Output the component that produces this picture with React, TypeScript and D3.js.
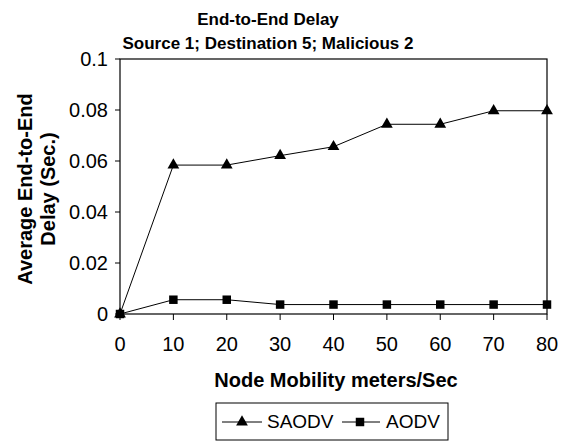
import React from "react";
import * as d3 from "d3";

// Datos
const mobility = [0, 10, 20, 30, 40, 50, 60, 70, 80];
const saodv = [0, 0.0584, 0.0584, 0.0621, 0.0656, 0.0744, 0.0744, 0.0797, 0.0797];
const aodv = [0, 0.0056, 0.0056, 0.0037, 0.0037, 0.0037, 0.0037, 0.0037, 0.0037];
const yTicks = [0, 0.02, 0.04, 0.06, 0.08, 0.1];
const xTicks = [0, 10, 20, 30, 40, 50, 60, 70, 80];

const W = 565;
const H = 441;
const m = { left: 120, right: 18, top: 59, bottom: 127 };
const font = "'Liberation Sans', Arial, sans-serif";

export default function App() {
  const x = d3.scaleLinear().domain([0, 80]).range([m.left, W - m.right]);
  const y = d3.scaleLinear().domain([0, 0.1]).range([H - m.bottom, m.top]);
  const line = d3.line<number>().x((_, i) => x(mobility[i])).y(d => y(d));
  const tri = d3.symbol().type(d3.symbolTriangle).size(60)() ?? "";
  const sq = d3.symbol().type(d3.symbolSquare).size(72)() ?? "";
  const fmtY = (v: number) => (v === 0 ? "0" : String(+v.toFixed(2)));

  return (
    <svg width={W} height={H} style={{ position: "absolute", left: 0, top: 0, background: "#fff" }} fontFamily={font}>
      <text x={268} y={25} textAnchor="middle" fontSize={17} fontWeight="bold">End-to-End Delay</text>
      <text x={268} y={49} textAnchor="middle" fontSize={17} fontWeight="bold">Source 1; Destination 5; Malicious 2</text>

      <rect x={m.left} y={m.top} width={W - m.left - m.right} height={H - m.top - m.bottom} fill="none" stroke="#000" strokeWidth={1.2} />

      {yTicks.map(t => (
        <g key={t}>
          <line x1={m.left - 5} x2={m.left} y1={y(t)} y2={y(t)} stroke="#000" />
          <text x={m.left - 12} y={y(t) + 7} textAnchor="end" fontSize={20}>{fmtY(t)}</text>
        </g>
      ))}
      {xTicks.map(t => (
        <g key={t}>
          <line x1={x(t)} x2={x(t)} y1={y(0)} y2={y(0) + 6} stroke="#000" />
          <text x={x(t)} y={y(0) + 37} textAnchor="middle" fontSize={20}>{t}</text>
        </g>
      ))}

      <text x={336} y={387} textAnchor="middle" fontSize={20} fontWeight="bold">Node Mobility meters/Sec</text>
      <g transform="translate(32,189) rotate(-90)">
        <text textAnchor="middle" fontSize={20} fontWeight="bold">Average End-to-End</text>
        <text y={23} textAnchor="middle" fontSize={20} fontWeight="bold">Delay (Sec.)</text>
      </g>

      <path d={line(saodv) ?? ""} fill="none" stroke="#000" strokeWidth={1} />
      <path d={line(aodv) ?? ""} fill="none" stroke="#000" strokeWidth={1} />
      {saodv.map((v, i) => (
        <path key={"s" + i} d={tri} transform={`translate(${x(mobility[i])},${y(v)})`} fill="#000" />
      ))}
      {aodv.map((v, i) => (
        <path key={"a" + i} d={sq} transform={`translate(${x(mobility[i])},${y(v)})`} fill="#000" />
      ))}

      <rect x={216} y={403} width={232} height={37} fill="none" stroke="#000" strokeWidth={1} />
      <line x1={222} x2={262} y1={422} y2={422} stroke="#000" />
      <path d={tri} transform="translate(242,422)" fill="#000" />
      <text x={267} y={428} fontSize={19}>SAODV</text>
      <line x1={342} x2={380} y1={422} y2={422} stroke="#000" />
      <path d={sq} transform="translate(360,422)" fill="#000" />
      <text x={386} y={428} fontSize={19}>AODV</text>
    </svg>
  );
}
